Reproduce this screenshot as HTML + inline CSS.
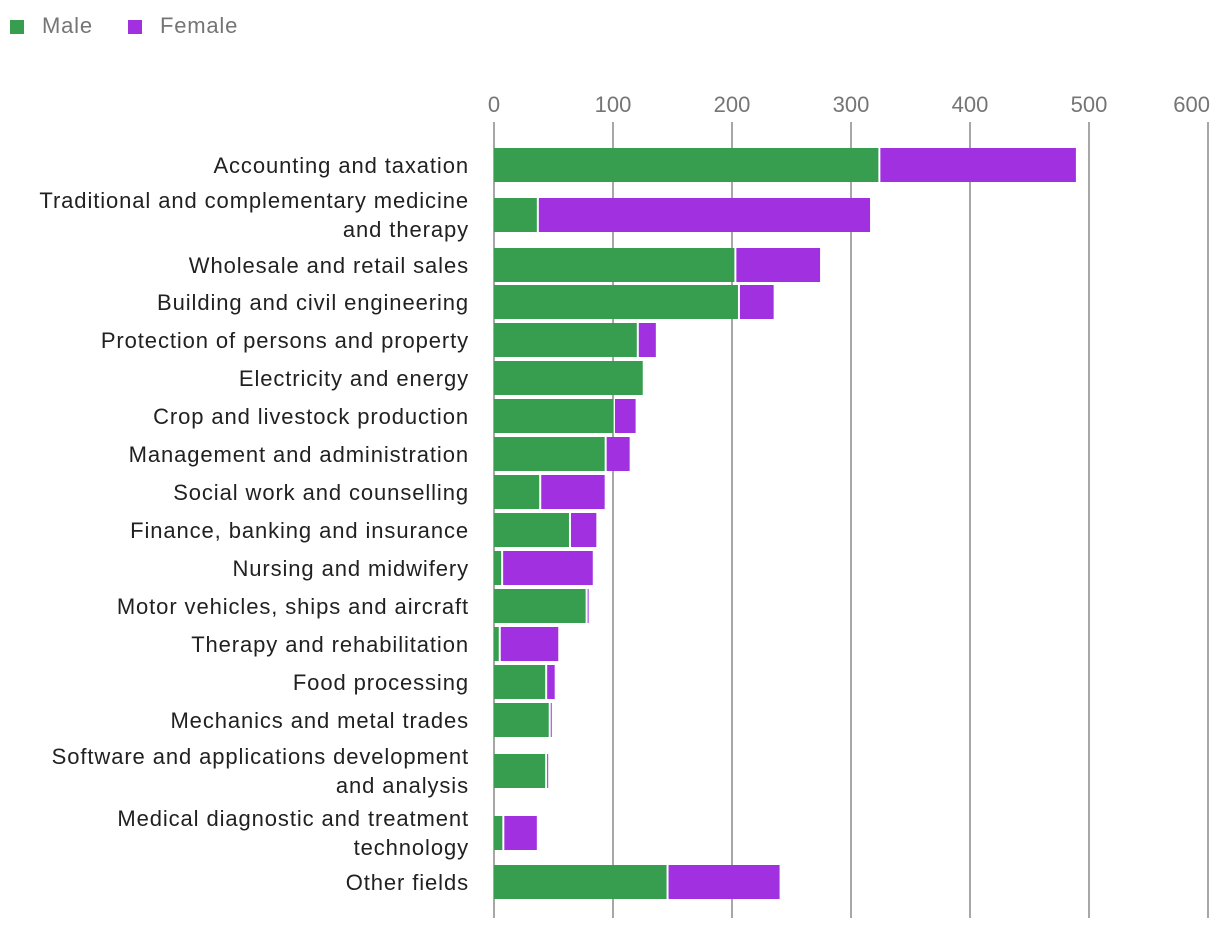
<!DOCTYPE html>
<html><head><meta charset="utf-8"><style>
body{margin:0;background:#fff;width:1220px;height:930px;overflow:hidden;font-family:"Liberation Sans",sans-serif}
</style></head><body>
<svg width="1220" height="930" id="chart" font-family="Liberation Sans, sans-serif">
<g>
<rect x="10" y="20" width="14" height="14" fill="#379e4f"/>
<text x="42" y="33" font-size="22" letter-spacing="0.8" fill="#757575">Male</text>
<rect x="128" y="20" width="14" height="14" fill="#a131e0"/>
<text x="160" y="33" font-size="22" letter-spacing="0.8" fill="#757575">Female</text>
</g>
<g id="grid"></g><g id="bars"></g><g id="labels"></g>
</svg>
<script>
const categories=[["Accounting and taxation"],["Traditional and complementary medicine","and therapy"],["Wholesale and retail sales"],["Building and civil engineering"],["Protection of persons and property"],["Electricity and energy"],["Crop and livestock production"],["Management and administration"],["Social work and counselling"],["Finance, banking and insurance"],["Nursing and midwifery"],["Motor vehicles, ships and aircraft"],["Therapy and rehabilitation"],["Food processing"],["Mechanics and metal trades"],["Software and applications development","and analysis"],["Medical diagnostic and treatment","technology"],["Other fields"]];
const maleValues=[323,36,202,205,120,125,100,93,38,63,6,77,4,43,46,43,7,145];
const femaleValues=[166,280,72,30,16,0,19,21,55,23,77,2,50,8,2,2,29,95];
const tickValues=[0,100,200,300,400,500,600];
const NS="http://www.w3.org/2000/svg";
const x0=494,pxPer=1.19;
const xs=v=>x0+v*pxPer;
const rowCenters=[165,215,265,302,340,378,416,454,492,530,568,606,644,682,720,771,833,882];
function mk(t,a,p){const e=document.createElementNS(NS,t);for(const k in a)e.setAttribute(k,a[k]);p.appendChild(e);return e;}
const grid=document.getElementById('grid'),bars=document.getElementById('bars'),labels=document.getElementById('labels');
tickValues.forEach((v,i)=>{
 const l=mk('line',{x1:xs(v),x2:xs(v),y1:122,y2:918,stroke:'#8a8a8a','stroke-width':1.5},grid);
 
 
 const last=i===tickValues.length-1;
 const t=mk('text',{x:last?1210:xs(v),y:112,'font-size':22,fill:'#757575','text-anchor':last?'end':'middle'},grid);
 t.textContent=v;
 
 
});
categories.forEach((c,i)=>{
 const cy=rowCenters[i],m=maleValues[i],f=femaleValues[i];
 const rm=mk('rect',{x:x0,y:cy-17,width:Math.max(0,xs(m)-x0),height:34,fill:'#379e4f'},bars);
 
 
 if(f>0){
  const rf=mk('rect',{x:xs(m)+(m>0?2:0),y:cy-17,width:Math.max(1,xs(m+f)-xs(m)-(m>0?2:0)),height:34,fill:'#a131e0'},bars);
  
  
 }
 const t=mk('text',{x:469,'font-size':22,'letter-spacing':0.9,fill:'#212121','text-anchor':'end'},labels);
 
 
 if(c.length===1){t.setAttribute('y',cy+8);t.textContent=c[0];}
 else{c.forEach((s,j)=>{const ts=mk('tspan',{x:469,y:cy-7+j*29},t);ts.textContent=s;});}
});
</script>
</body></html>
